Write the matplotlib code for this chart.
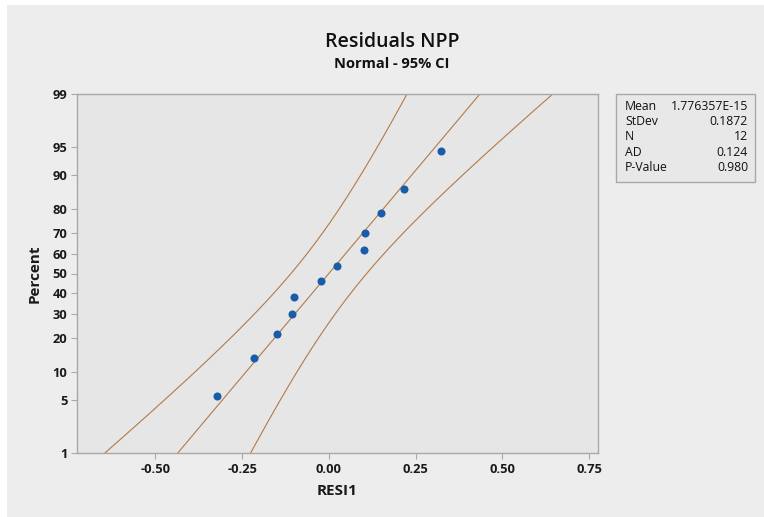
import matplotlib
matplotlib.use("Agg")
import matplotlib.pyplot as plt
from matplotlib.patches import Rectangle
from statistics import NormalDist
import numpy as np

# ---- data ----
residuals = [-0.323, -0.217, -0.150, -0.106, -0.099, -0.022,
             0.024, 0.101, 0.104, 0.150, 0.216, 0.322]
mean_val = 1.776357e-15
stdev_val = 0.1872
n_val = 12
ad_val = 0.124
p_val = 0.980
stat_labels = ["Mean", "StDev", "N", "AD", "P-Value"]
stat_texts = ["1.776357E-15", "0.1872", "12", "0.124", "0.980"]
pct_ticks = [1, 5, 10, 20, 30, 40, 50, 60, 70, 80, 90, 95, 99]
x_ticks = [-0.50, -0.25, 0.00, 0.25, 0.50, 0.75]
x_tick_labels = ["-0.50", "-0.25", "0.00", "0.25", "0.50", "0.75"]

plt.rcParams['font.family'] = ['Open Sans', 'DejaVu Sans']

nd = NormalDist()
W, H = 764, 517
fig = plt.figure(figsize=(W / 100, H / 100), dpi=100)
fig.patch.set_facecolor('white')
fig.patches.append(Rectangle((7 / W, 0), 1 - 7 / W, 1 - 5 / H, transform=fig.transFigure,
                             facecolor='#ededed', edgecolor='none', zorder=-10))

ax = fig.add_axes([77 / W, 1 - 453 / H, (598 - 77) / W, (453 - 94) / H])
ax.set_facecolor('#e6e6e6')

xs = np.sort(np.array(residuals))
n = len(xs)
ranks = np.arange(1, n + 1)
probs = (ranks - 0.3) / (n + 0.4)
zs = np.array([nd.inv_cdf(p) for p in probs])

zmin, zmax = nd.inv_cdf(0.01), nd.inv_cdf(0.99)
zz = np.linspace(zmin - 0.2, zmax + 0.2, 300)
fit = mean_val + stdev_val * zz
se = stdev_val / np.sqrt(n_val) * np.sqrt(1 + zz ** 2 / 2) * 1.03
lc = '#b37a48'
ax.plot(fit, zz, color=lc, lw=0.8, zorder=2)
ax.plot(fit - 1.96 * se, zz, color=lc, lw=0.8, zorder=2)
ax.plot(fit + 1.96 * se, zz, color=lc, lw=0.8, zorder=2)
ax.plot(xs, zs, 'o', color='#1a5ca8', markersize=5.8, markeredgewidth=0, zorder=3)

ax.set_xlim(-0.726, 0.776)
ax.set_ylim(zmin, zmax)
ax.set_yticks([nd.inv_cdf(p / 100) for p in pct_ticks])
ax.set_yticklabels([str(p) for p in pct_ticks])
ax.set_xticks(x_ticks)
ax.set_xticklabels(x_tick_labels)

for s in ['top', 'right', 'left', 'bottom']:
    ax.spines[s].set_color('#a8a8a8')
    ax.spines[s].set_linewidth(1.0)
ax.tick_params(direction='out', length=4, width=0.8, color='#a8a8a8',
               labelsize=9.3, labelcolor='#1a1a1a', pad=3)
for lab in ax.get_xticklabels() + ax.get_yticklabels():
    lab.set_fontweight('bold')

ax.set_xlabel('RESI1', fontsize=11, fontweight='bold', color='#1a1a1a', labelpad=6)
ax.set_ylabel('Percent', fontsize=11, fontweight='bold', color='#1a1a1a', labelpad=8)

fig.text(392 / W, 1 - 42 / H, 'Residuals NPP', ha='center', va='center',
         fontsize=14, fontweight='semibold', color='#111111')
fig.text(392 / W, 1 - 64 / H, 'Normal - 95% CI', ha='center', va='center',
         fontsize=10.5, fontweight='bold', color='#111111')

bx0, by0, bx1, by1 = 616, 94, 755, 182
fig.patches.append(Rectangle((bx0 / W, 1 - by1 / H), (bx1 - bx0) / W, (by1 - by0) / H,
                             transform=fig.transFigure, facecolor='#e8e8e8',
                             edgecolor='#a8a8a8', linewidth=1.0, zorder=1))
row_y = [106, 121.5, 137, 152.5, 168]
for lab, txt, yy in zip(stat_labels, stat_texts, row_y):
    fig.text(625 / W, 1 - yy / H, lab, ha='left', va='center', fontsize=8.8, color='#111111')
    fig.text(748 / W, 1 - yy / H, txt, ha='right', va='center', fontsize=8.8, color='#111111')

fig.savefig('out.png', dpi=100, facecolor=fig.get_facecolor())
